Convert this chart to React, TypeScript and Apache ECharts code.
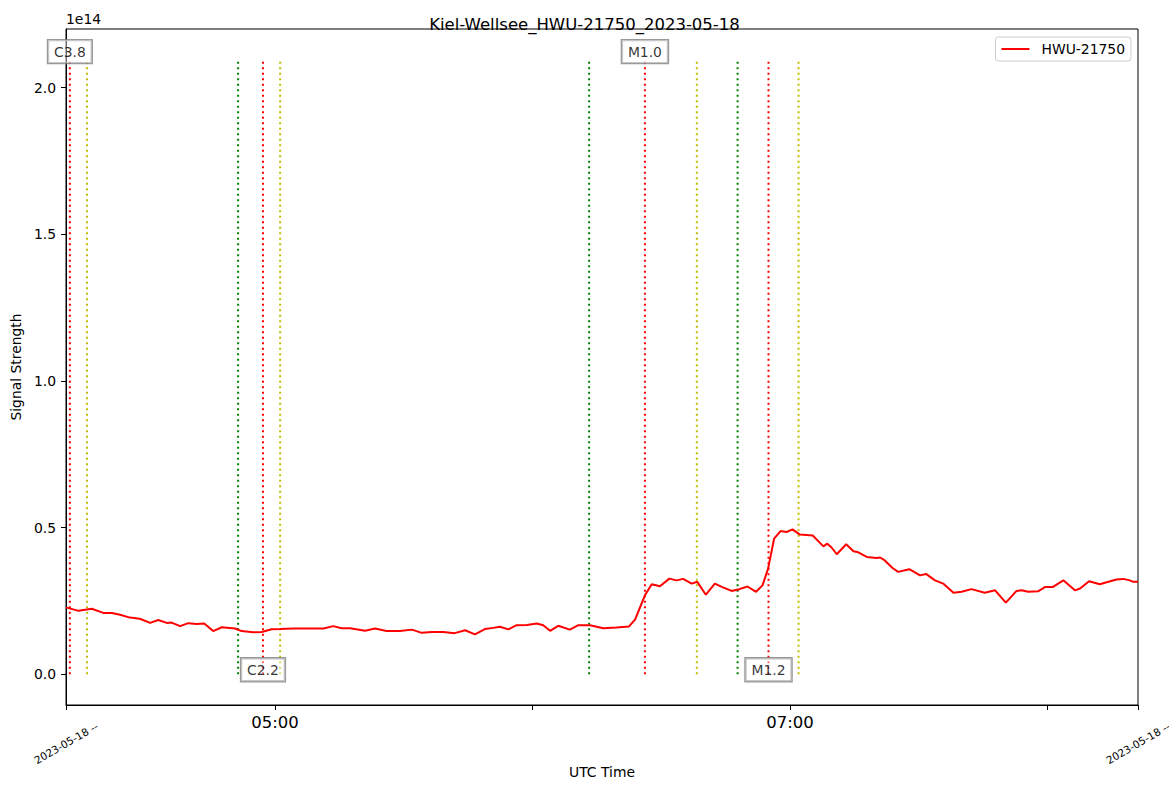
import React, { useEffect, useRef } from "react";
import * as echarts from "echarts";

const TITLE = "Kiel-Wellsee_HWU-21750_2023-05-18";
const SERIES_NAME = "HWU-21750";
const DATE_LABEL = "2023-05-18 --";
const X_NAME = "UTC Time";
const Y_NAME = "Signal Strength";
const Y_EXP = "1e14";

// time of each sample, in minutes after 2023-05-18 04:00 UTC
const timeMinutes = [
  11.3, 14.2, 17.3, 20.0, 22.0, 23.9, 26.2, 28.5, 30.9, 32.8, 34.8, 35.9, 37.9, 39.8, 41.8, 43.5,
  45.6, 47.6, 50.7, 52.2, 54.9, 56.9, 59.2, 61.2, 64.3, 68.2, 71.3, 73.6, 75.5, 77.5, 81.0, 83.3,
  86.0, 89.1, 91.9, 94.2, 96.5, 99.2, 101.9, 104.3, 106.6, 108.9, 110.9, 112.4, 114.4, 116.3,
  118.7, 121.0, 122.5, 124.1, 126.0, 128.7, 130.7, 133.4, 136.5, 139.6, 142.5, 143.9, 146.2,
  147.8, 149.7, 151.9, 153.6, 155.1, 157.1, 158.4, 160.4, 162.5, 164.1, 166.4, 168.2, 170.1,
  172.1, 173.6, 174.9, 176.3, 177.8, 179.2, 180.6, 182.3, 185.3, 187.8, 188.7, 189.7, 190.9,
  193.1, 194.8, 195.7, 197.9, 200.2, 201.0, 202.1, 203.9, 205.2, 207.8, 210.3, 211.7, 213.8,
  215.7, 218.1, 220.0, 222.3, 225.4, 227.8, 230.3, 232.8, 234.0, 235.5, 237.9, 239.4, 241.2,
  243.7, 246.4, 247.6, 249.7, 252.2, 254.2, 256.1, 257.7, 259.2, 260.0, 261.1,
];
// signal strength in units of 1e14
const signalE14 = [
  0.228, 0.216, 0.223, 0.209, 0.209, 0.203, 0.193, 0.189, 0.175, 0.185, 0.175, 0.176, 0.164, 0.174, 0.171, 0.173,
  0.147, 0.160, 0.156, 0.147, 0.143, 0.144, 0.153, 0.154, 0.156, 0.156, 0.156, 0.164, 0.157, 0.157, 0.148, 0.156,
  0.147, 0.147, 0.152, 0.141, 0.144, 0.144, 0.140, 0.150, 0.136, 0.154, 0.158, 0.162, 0.153, 0.167,
  0.168, 0.173, 0.167, 0.148, 0.165, 0.152, 0.167, 0.167, 0.157, 0.159, 0.163, 0.186, 0.269,
  0.307, 0.300, 0.326, 0.320, 0.325, 0.309, 0.315, 0.271, 0.309, 0.298, 0.284, 0.290, 0.299,
  0.281, 0.303, 0.360, 0.462, 0.488, 0.485, 0.494, 0.476, 0.473, 0.436, 0.445, 0.432, 0.409,
  0.443, 0.419, 0.417, 0.400, 0.396, 0.398, 0.388, 0.362, 0.349, 0.358, 0.337, 0.342, 0.320,
  0.309, 0.278, 0.281, 0.290, 0.278, 0.286, 0.244, 0.284, 0.286, 0.281, 0.283, 0.297, 0.297,
  0.320, 0.286, 0.292, 0.317, 0.307, 0.315, 0.323, 0.325, 0.320, 0.315, 0.315,
];

// flare events (minutes after 04:00 UTC); null = outside the plotted range
const flareNames = ["C3.8", "C2.2", "M1.0", "M1.2"];
const flareStartMin: (number | null)[] = [null, 51.4, 133.2, 167.8];
const flarePeakMin = [12.2, 57.2, 146.2, 175.0];
const flareEndMin = [16.2, 61.2, 158.3, 182.0];
const flareLabelSide = ["top", "bottom", "top", "bottom"];
const flareLineTopE14 = 2.1;
const flareLabelTopE14 = 2.123;
const flareLabelBottomE14 = 0.015;

const xRangeMin = [11.3, 261.1];
const xTickHours = [5, 6, 7, 8];
const xLabelHours = [5, 7];
const yTickValuesE14 = [0, 0.5, 1.0, 1.5, 2.0];
const yRangeE14 = [-0.105, 2.2];

const BASE = Date.UTC(2023, 4, 18, 4, 0, 0);
const T = (m: number) => BASE + m * 60000;
const E14 = 1e14;
const FONT = "DejaVu Sans";

const pad2 = (n: number) => (n < 10 ? "0" + n : "" + n);

export default function App() {
  const ref = useRef<HTMLDivElement>(null);
  useEffect(() => {
    if (!ref.current) return;
    const chart = echarts.init(ref.current, null, { renderer: "svg" });
    const X0 = T(xRangeMin[0]);
    const X1 = T(xRangeMin[1]);
    const lineData = timeMinutes.map((m, i) => [T(m), signalE14[i] * E14]);

    const vLines: any[] = [];
    const addV = (m: number | null, color: string) => {
      if (m === null) return;
      vLines.push({
        type: "line",
        data: [
          [T(m), 0],
          [T(m), flareLineTopE14 * E14],
        ],
        showSymbol: false,
        symbol: "none",
        silent: true,
        z: 1,
        lineStyle: { color, width: 2, type: [2, 3.5] },
      });
    };
    flareNames.forEach((_, i) => {
      addV(flareStartMin[i], "#008000");
      addV(flarePeakMin[i], "#ff0000");
      addV(flareEndMin[i], "#bfbf00");
    });

    const labelData = flareNames.map((n, i) => ({
      name: n,
      value: [
        T(flarePeakMin[i]),
        (flareLabelSide[i] === "top" ? flareLabelTopE14 : flareLabelBottomE14) * E14,
      ],
    }));

    const option: any = {
      animation: false,
      textStyle: { fontFamily: FONT },
      title: {
        text: TITLE,
        left: "center",
        top: 11,
        textStyle: { fontFamily: FONT, fontSize: 16.5, fontWeight: "normal", color: "#000" },
      },
      legend: {
        data: [SERIES_NAME],
        right: 38,
        top: 37,
        icon: "rect",
        itemWidth: 28,
        itemHeight: 2,
        padding: [5, 6, 5, 6],
        borderColor: "#cccccc",
        borderWidth: 1,
        borderRadius: 3,
        backgroundColor: "rgba(255,255,255,0.8)",
        textStyle: { fontFamily: FONT, fontSize: 13.9, color: "#000", padding: [0, 0, 0, 7] },
      },
      graphic: [
        {
          type: "text",
          left: 66,
          top: 12,
          style: { text: Y_EXP, fontFamily: FONT, fontSize: 13.9, fill: "#000" },
        },
      ],
      grid: {
        left: 66,
        right: 31,
        top: 29,
        bottom: 87,
        show: true,
        borderColor: "#000",
        borderWidth: 1,
        backgroundColor: "transparent",
        containLabel: false,
        outerBoundsMode: "none",
      },
      xAxis: [
        {
          type: "value",
          min: X0,
          max: X1,
          position: "bottom",
          name: X_NAME,
          nameLocation: "middle",
          nameGap: 60,
          nameTextStyle: { fontFamily: FONT, fontSize: 13.9, color: "#000" },
          axisLine: { show: true, onZero: false, lineStyle: { color: "#000", width: 1 } },
          axisTick: {
            show: true,
            length: 5,
            customValues: xTickHours.map((h) => T(h * 60 - 240)),
            lineStyle: { color: "#000" },
          },
          axisLabel: {
            customValues: xLabelHours.map((h) => T(h * 60 - 240)),
            formatter: (v: number) => {
              const d = new Date(v);
              return pad2(d.getUTCHours()) + ":" + pad2(d.getUTCMinutes());
            },
            fontFamily: FONT,
            fontSize: 16.5,
            color: "#000",
            margin: 9,
          },
          splitLine: { show: false },
        },
        {
          type: "value",
          min: X0,
          max: X1,
          position: "bottom",
          offset: 0,
          axisLine: { show: false, onZero: false },
          axisTick: {
            show: true,
            length: 5,
            customValues: [X0, X1],
            lineStyle: { color: "#000" },
          },
          axisLabel: {
            customValues: [X0, X1],
            formatter: () => DATE_LABEL,
            rotate: 30,
            align: "center",
            verticalAlign: "middle",
            fontFamily: FONT,
            fontSize: 10.5,
            color: "#000",
            margin: 38,
            showMinLabel: true,
            showMaxLabel: true,
          },
          splitLine: { show: false },
        },
      ],
      yAxis: {
        type: "value",
        min: yRangeE14[0] * E14,
        max: yRangeE14[1] * E14,
        name: Y_NAME,
        nameLocation: "middle",
        nameGap: 34,
        nameTextStyle: { fontFamily: FONT, fontSize: 13.9, color: "#000" },
        axisLine: { show: true, onZero: false, lineStyle: { color: "#000" } },
        axisTick: {
          show: true,
          length: 5,
          customValues: yTickValuesE14.map((v) => v * E14),
          lineStyle: { color: "#000" },
        },
        axisLabel: {
          customValues: yTickValuesE14.map((v) => v * E14),
          formatter: (v: number) => (v / E14).toFixed(1),
          fontFamily: FONT,
          fontSize: 13.9,
          color: "#000",
          margin: 10,
        },
        splitLine: { show: false },
      },
      series: [
        ...vLines,
        {
          name: SERIES_NAME,
          type: "line",
          data: lineData,
          showSymbol: false,
          symbol: "none",
          z: 3,
          color: "#ff0000",
          lineStyle: { color: "#ff0000", width: 2 },
        },
        {
          type: "scatter",
          data: labelData,
          symbolSize: 0,
          silent: true,
          clip: false,
          z: 5,
          label: {
            show: true,
            position: "inside",
            formatter: (p: any) => p.name,
            fontFamily: FONT,
            fontSize: 13.9,
            color: "#000",
            backgroundColor: "rgba(255,255,255,0.55)",
            borderColor: "#808080",
            borderWidth: 1.2,
            padding: [5, 6, 4, 6],
          },
        },
      ],
    };
    chart.setOption(option);
    return () => chart.dispose();
  }, []);
  return (
    <div
      ref={ref}
      style={{ position: "fixed", left: 0, top: 0, width: 1169, height: 792, background: "#fff" }}
    />
  );
}
